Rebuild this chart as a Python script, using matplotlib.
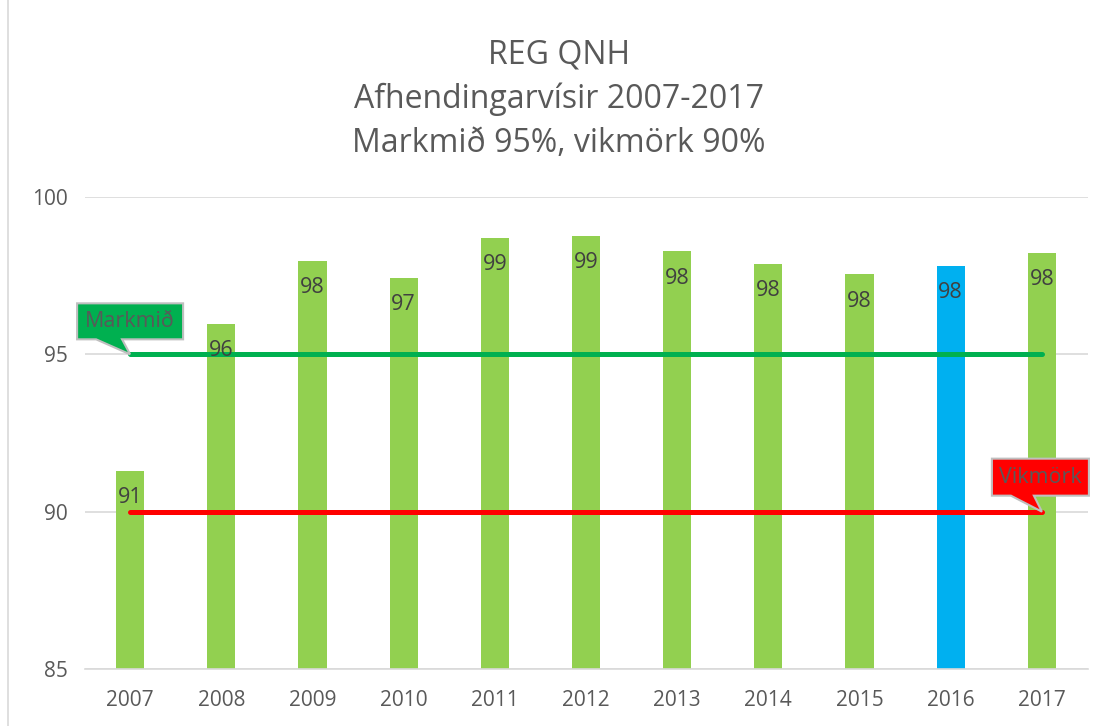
import matplotlib
matplotlib.use("Agg")
import matplotlib.pyplot as plt
import matplotlib.transforms as mtransforms
from matplotlib.patches import Polygon, Rectangle

years = ["2007", "2008", "2009", "2010", "2011", "2012", "2013", "2014", "2015", "2016", "2017"]
values = [91.3, 95.97, 97.97, 97.43, 98.71, 98.77, 98.28, 97.88, 97.55, 97.82, 98.23]
markmid = [95, 95, 95, 95, 95, 95, 95, 95, 95, 95, 95]
vikmork = [90, 90, 90, 90, 90, 90, 90, 90, 90, 90, 90]
highlight = "2016"

GREEN_BAR = "#92D050"
BLUE_BAR = "#00B0F0"
GREEN_LINE = "#00B050"
RED_LINE = "#FF0000"
TXT = "#595959"
FONT = "Open Sans"

plt.rcParams["font.family"] = [FONT, "DejaVu Sans"]

fig = plt.figure(figsize=(11.11, 7.26), dpi=100)
ax = fig.add_axes([84.5 / 1111, 1 - 669 / 726, (1087.5 - 84.5) / 1111, (669 - 197) / 726])

# outer chart border
fig.add_artist(Rectangle((8 / 1111, -0.01), 1.0, 1.02, transform=fig.transFigure,
                         fill=False, edgecolor="#D9D9D9", linewidth=1.2))

x = list(range(len(years)))
colors = [BLUE_BAR if y == highlight else GREEN_BAR for y in years]
ax.bar(x, [v - 85 for v in values], bottom=85, width=0.31, color=colors, zorder=2)

ax.plot(x, markmid, color=GREEN_LINE, linewidth=3.6, solid_capstyle="round", zorder=3)
ax.plot(x, vikmork, color=RED_LINE, linewidth=3.6, solid_capstyle="round", zorder=3)

for xi, v in zip(x, values):
    ax.annotate(f"{v:.0f}", xy=(xi, v), xytext=(0, -19.5), textcoords="offset points",
                ha="center", va="center", fontsize=15.5, color="#404040", zorder=5)

ax.set_xlim(-0.5, len(years) - 0.5)
ax.set_ylim(85, 100)
ax.set_yticks([85, 90, 95, 100])
ax.set_xticks(x)
ax.set_xticklabels(years)
ax.tick_params(length=0, labelsize=15, labelcolor=TXT)
ax.tick_params(axis="y", pad=12)
ax.tick_params(axis="x", pad=15)
ax.grid(axis="y", color="#D9D9D9", linewidth=1.2, zorder=0)
ax.set_axisbelow(True)
for s in ["top", "right", "left"]:
    ax.spines[s].set_visible(False)
ax.spines["bottom"].set_color("#D9D9D9")
ax.spines["bottom"].set_linewidth(1.2)

fig.text(0.503, 1 - 55 / 726, "REG QNH", ha="center", va="center", fontsize=23, color=TXT)
fig.text(0.503, 1 - 99 / 726, "Afhendingarvísir 2007-2017", ha="center", va="center", fontsize=23, color=TXT)
fig.text(0.503, 1 - 143 / 726, "Markmið 95%, vikmörk 90%", ha="center", va="center", fontsize=23, color=TXT)


def callout(xd, yd, text, face, left, right, bot, top, t0, t1):
    # shape in pixels relative to the anchor point
    px, py = ax.transData.transform((xd, yd))
    pts = [(px + t0, py + bot), (px + left, py + bot), (px + left, py + top),
           (px + right, py + top), (px + right, py + bot), (px + t1, py + bot), (px, py)]
    fig.add_artist(Polygon(pts, closed=True, facecolor=face, edgecolor="#BFBFBF",
                           linewidth=1.5, transform=mtransforms.IdentityTransform(), zorder=6))
    fig.text((px + (left + right) / 2) / 1111, (py + (bot + top) / 2) / 726, text,
             ha="center", va="center", fontsize=15.5, color=TXT, zorder=7)


fig.canvas.draw()
callout(0, markmid[0], "Markmið", GREEN_LINE, -53, 53, 15, 51, -34, -8)
callout(len(years) - 1, vikmork[-1], "Vikmörk", RED_LINE, -50, 47, 16, 53, -31, -8)

fig.savefig("out.png", dpi=100)
